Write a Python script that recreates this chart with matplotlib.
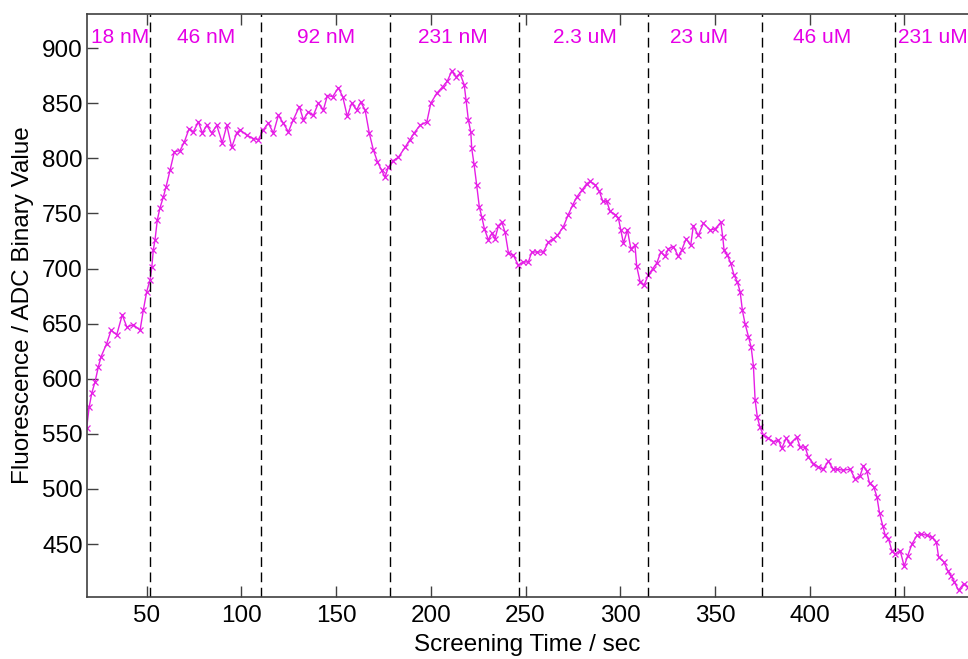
import numpy as np
import matplotlib.pyplot as plt

plt.rcParams['font.family'] = ['Liberation Sans', 'DejaVu Sans']

# screening time (s) and fluorescence (ADC value)
time_s = [18.3, 19.6, 21.0, 22.7, 24.5, 25.9, 28.9, 31.2, 34.2, 37.1, 39.5, 43.0,
          46.5, 48.2, 50.0, 51.8, 52.7, 53.5, 54.4, 55.6, 57.0, 58.8, 60.2, 62.3,
          64.6, 67.6, 69.9, 72.4, 74.6, 77.3, 79.4, 81.7, 84.3, 87.0, 89.9, 92.3,
          94.9, 97.5, 99.3, 102.8, 106.3, 109.0, 111.6, 114.2, 116.9, 119.5, 122.1,
          124.8, 127.4, 130.6, 132.7, 135.3, 138.0, 140.6, 143.3, 145.4, 148.2,
          151.2, 153.5, 155.9, 158.2, 160.9, 163.0, 165.3, 167.5, 169.6, 171.8,
          174.1, 175.8, 177.6, 180.2, 182.9, 186.4, 189.0, 191.2, 194.3, 197.9,
          200.0, 203.1, 206.3, 208.7, 211.0, 213.4, 215.4, 217.6, 218.6, 219.8,
          221.1, 221.6, 222.8, 224.2, 225.6, 226.9, 228.3, 230.4, 232.2, 233.9,
          235.7, 237.5, 239.2, 241.0, 243.6, 246.2, 248.9, 251.5, 253.3, 255.9,
          259.4, 262.1, 264.7, 266.8, 270.0, 272.6, 275.0, 277.1, 279.7, 282.3,
          284.1, 286.7, 289.0, 290.8, 292.9, 294.6, 297.3, 299.0, 300.3, 301.7,
          303.8, 305.6, 307.8, 308.7, 310.5, 312.6, 314.8, 317.2, 319.3, 321.4,
          323.7, 325.4, 328.1, 330.7, 332.5, 334.8, 337.2, 338.6, 341.2, 343.9,
          347.4, 350.1, 353.1, 354.1, 354.8, 356.6, 358.3, 360.1, 361.8, 363.3,
          364.5, 365.9, 367.7, 369.1, 370.3, 371.2, 372.4, 373.8, 375.6, 378.2,
          380.9, 383.5, 385.3, 387.6, 389.6, 393.2, 395.0, 397.6, 399.3, 402.0,
          404.6, 407.2, 409.9, 412.5, 414.3, 417.8, 421.4, 424.0, 426.6, 428.4,
          430.2, 431.6, 433.8, 435.5, 436.9, 438.7, 439.9, 441.6, 443.4, 445.1,
          447.8, 449.9, 451.7, 454.0, 456.7, 458.8, 462.0, 464.6, 466.9, 468.1,
          470.8, 472.9, 474.7, 476.3, 478.6, 481.3, 483.4]
adc = [555, 574, 587, 597, 611, 620, 632, 644, 640, 658, 647, 649,
       644, 662, 679, 690, 701, 717, 726, 744, 755, 765, 774, 789,
       806, 807, 815, 827, 824, 833, 823, 830, 823, 830, 814, 830,
       810, 823, 826, 821, 818, 817, 826, 832, 823, 839, 832,
       824, 835, 847, 835, 842, 839, 850, 844, 857, 856,
       864, 856, 838, 850, 844, 851, 844, 823, 808, 797,
       789, 783, 792, 798, 801, 810, 817, 823, 830, 833,
       850, 859, 865, 870, 879, 874, 877, 867, 853, 835,
       824, 809, 795, 776, 756, 747, 736, 726, 732, 727,
       739, 742, 733, 714, 712, 703, 706, 706, 715, 715,
       715, 724, 727, 730, 738, 749, 758, 765, 771, 777,
       779, 776, 770, 761, 761, 752, 749, 746, 735, 723,
       735, 718, 721, 702, 688, 685, 694, 700, 705, 715,
       711, 718, 720, 711, 717, 727, 721, 739, 730, 741,
       735, 736, 742, 729, 717, 712, 705, 694, 688, 679,
       662, 650, 638, 629, 612, 581, 565, 556, 549, 546,
       543, 544, 537, 546, 541, 547, 538, 538, 529, 523,
       520, 518, 525, 518, 518, 517, 518, 509, 512, 521,
       516, 505, 502, 493, 478, 466, 458, 455, 444, 441,
       444, 430, 439, 450, 458, 459, 458, 456, 452, 438,
       434, 426, 421, 416, 408, 414, 411]

boundaries = [51.5, 110.3, 178.2, 246.6, 314.5, 375.0, 445.1]
conc_labels = ['18 nM', '46 nM', '92 nM', '231 nM', '2.3 uM', '23 uM', '46 uM', '231 uM']
label_x = [36.0, 81.4, 144.7, 211.5, 281.4, 341.6, 406.5, 446.7]

fig = plt.figure(figsize=(9.68, 6.59), dpi=100)
ax = fig.add_axes([0.0899, 0.0941, 0.9101, 0.8847])

ax.plot(time_s, adc, color='#e61ee6', lw=1.0, marker='x', ms=5, mew=0.9)

for b in boundaries:
    ax.axvline(b, color='black', ls=(0, (7, 4)), lw=1.0)

for i, (lx, lab) in enumerate(zip(label_x, conc_labels)):
    ha = 'left' if i == len(conc_labels) - 1 else 'center'
    ax.text(lx, 910, lab, color='#e600e6', fontsize=15, ha=ha, va='center')

ax.set_xlim(18.5, 483.6)
ax.set_ylim(402, 931)
ax.set_xticks(np.arange(50, 451, 50))
ax.set_yticks(np.arange(450, 901, 50))
ax.tick_params(direction='in', top=True, right=False, length=8, width=1,
               labelsize=17.5, color='#404040')
ax.tick_params(axis='x', pad=6)
ax.tick_params(axis='y', pad=3)
for side in ['left', 'bottom', 'top']:
    ax.spines[side].set_color('#404040')
    ax.spines[side].set_linewidth(1.2)
ax.spines['right'].set_visible(False)

ax.set_xlabel('Screening Time / sec', fontsize=17.5, labelpad=5)
ax.set_ylabel('Fluorescence / ADC Binary Value', fontsize=17.5, labelpad=6)

fig.savefig('out.png', dpi=100)
